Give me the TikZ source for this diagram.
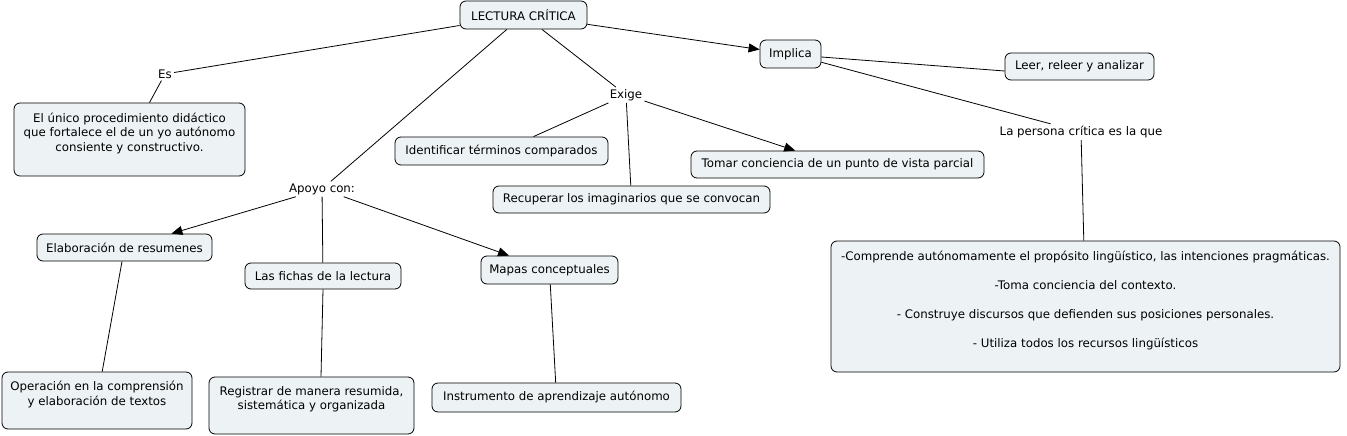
\documentclass[tikz,border=0pt]{standalone}
\usepackage{fontspec}
\setmainfont{DejaVu Sans}
\usepackage{tikz}
\usetikzlibrary{arrows.meta}
\definecolor{cmapfill}{HTML}{EDF3F5}
\tikzstyle{block} = [rectangle, draw, fill=cmapfill, rounded corners=6pt, align=center, inner sep=0pt, line width=0.8pt]
\tikzstyle{phrase} = [inner sep=2pt]
\tikzstyle{line} = [draw, line width=0.8pt]
\tikzstyle{arrow} = [draw, line width=0.8pt, -{Triangle[length=11pt, width=9pt]}]

\begin{document}
\begin{tikzpicture}[x=1pt, y=-1pt, every node/.style={font=\fontsize{11.8}{14.5}\selectfont}]
\useasboundingbox (0,0) rectangle (1347,436);

%% main concept
\node [block, minimum width=127pt, minimum height=28pt] at (523.5, 15) (lectura) {LECTURA CRÍTICA};

%% implica
\node [block, minimum width=61pt, minimum height=28pt] at (790.5, 54) (implica) {Implica};
\path [arrow] (lectura) to (implica);

\node [block, minimum width=149pt, minimum height=27pt] at (1079.5, 66.5) (leer) {Leer, releer y analizar};
\path [line] ([yshift=-3pt]implica.east) to ([yshift=-4.5pt]leer.west);

\node [phrase] at (1081, 132) (persona) {La persona crítica es la que};
\path [line] (implica) to (persona);

\node [block, minimum width=509pt, minimum height=131pt] at (1085.5, 306.5) (rasgos) {%
-Comprende autónomamente el propósito lingüístico, las intenciones pragmáticas.\\[14.5pt]
-Toma conciencia del contexto.\\[14.5pt]
- Construye discursos que defienden sus posiciones personales.\\[14.5pt]
- Utiliza todos los recursos lingüísticos\\ \mbox{}};
\path [line] (persona) to (rasgos);

%% es
\node [phrase] at (165, 74) (es) {Es};
\path [line] (lectura) to (es);

\node [block, minimum width=231pt, minimum height=73pt] at (129.5, 139.5) (unico) {%
El único procedimiento didáctico\\
que fortalece el de un yo autónomo\\
consiente y constructivo.\\ \mbox{}};
\path [line] (es) to (unico);

%% exige
\node [phrase] at (626, 95) (exige) {Exige};
\path [line] (lectura) to (exige);

\node [block, minimum width=213pt, minimum height=28pt] at (501.5, 151) (identificar) {Identificar términos comparados};
\path [line] (exige) to (identificar);

\node [block, minimum width=293pt, minimum height=27pt] at (837.5, 164.5) (tomar) {Tomar conciencia de un punto de vista parcial};
\path [arrow] (exige) to (tomar);

\node [block, minimum width=277pt, minimum height=27pt] at (631.5, 199.5) (recuperar) {Recuperar los imaginarios que se convocan};
\path [line] (exige) to (recuperar);

%% apoyo
\node [phrase] at (322, 189) (apoyo) {Apoyo con:};
\path [line] (lectura) to (apoyo);

\node [block, minimum width=175pt, minimum height=27pt] at (124.5, 247.5) (resumenes) {Elaboración de resumenes};
\path [arrow] (apoyo) to (resumenes);

\node [block, minimum width=156pt, minimum height=26pt] at (323, 276) (fichas) {Las fichas de la lectura};
\path [line] (apoyo) to (fichas);

\node [block, minimum width=137pt, minimum height=28pt] at (549.5, 270) (mapas) {Mapas conceptuales};
\path [arrow] (apoyo) to (mapas);

%% bottom row
\node [block, minimum width=190pt, minimum height=57pt] at (97, 400.5) (operacion) {%
Operación en la comprensión\\
y elaboración de textos\\ \mbox{}};
\path [line] (resumenes) to (operacion);

\node [block, minimum width=205pt, minimum height=57pt] at (311.5, 405.5) (registrar) {%
Registrar de manera resumida,\\
sistemática y organizada\\ \mbox{}};
\path [line] (fichas.south) to ([xshift=9.5pt]registrar.north);

\node [block, minimum width=249pt, minimum height=29pt] at (556.5, 397.5) (instrumento) {Instrumento de aprendizaje autónomo};
\path [line] (mapas) to (instrumento);
\end{tikzpicture}
\end{document}
